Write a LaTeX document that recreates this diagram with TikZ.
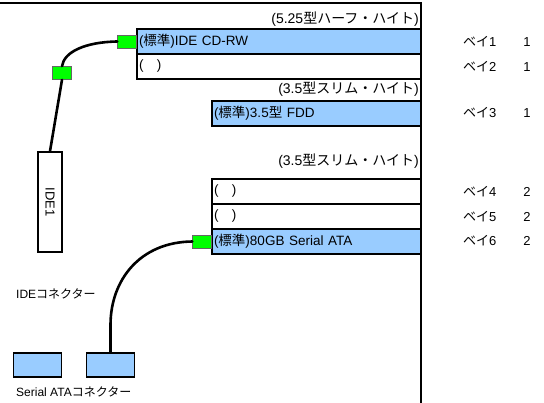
\documentclass[tikz,border=0pt]{standalone}
\usepackage{fontspec}
\setmainfont{Liberation Sans}
\newfontfamily\jpfont{Noto Sans CJK JP}
\newcommand{\jp}[1]{{\jpfont #1}}
\usepackage{xcolor}
\usepackage{tikz}
\usetikzlibrary{positioning}

\definecolor{baybl}{HTML}{99CCFF}
\definecolor{plugg}{HTML}{00FF00}

\tikzset{
  bay/.style={draw, line width=1.6pt, outer sep=0pt, inner xsep=2pt, inner ysep=0pt,
    minimum height=25pt, align=left, font=\fontsize{13.5}{14}\selectfont},
  used/.style={bay, fill=baybl},
  head/.style={anchor=east, inner sep=0pt, font=\fontsize{14}{15}\selectfont},
  baylabel/.style={anchor=west, inner sep=0pt, font=\fontsize{13}{14}\selectfont},
  plug/.style={draw=black!60, fill=plugg, line width=0.6pt, inner sep=0pt,
    minimum width=19pt, minimum height=13pt},
  port/.style={draw, line width=1.4pt, fill=baybl, minimum width=48pt, minimum height=24pt},
  cable/.style={line width=2.6pt, line cap=round},
  note/.style={anchor=west, inner sep=0pt, font=\fontsize{12}{13}\selectfont}
}

\begin{document}
\begin{tikzpicture}[x=1pt, y=-1pt]
  \useasboundingbox (0,0) rectangle (544,403);

  % Frame
  \draw[line width=1.8pt] (0,3) -- (421,3) -- (421,403);

  % 5.25 bays
  \node[head] (head1) at (419,19) {(5.25\jp{型ハーフ・ハイト})};
  \node[used, anchor=north west, text width=280pt] (bay1) at (137,29) {(\jp{標準})IDE CD-RW};
  \node[bay, below=0pt of bay1, text width=280pt] (bay2) {(\jp{　})};

  % 3.5 bay
  \node[head] (head2) at (419,89) {(3.5\jp{型スリム・ハイト})};
  \node[used, anchor=north west, text width=205pt] (bay3) at (212,101) {(\jp{標準})3.5\jp{型} FDD};

  % 3.5 slim bays
  \node[head] (head3) at (419,161) {(3.5\jp{型スリム・ハイト})};
  \node[bay, anchor=north west, text width=205pt] (bay4) at (212,179) {(\jp{　})};
  \node[bay, below=0pt of bay4, text width=205pt] (bay5) {(\jp{　})};
  \node[used, below=0pt of bay5, text width=205pt] (bay6) {(\jp{標準})80GB Serial ATA};

  % Bay numbers
  \node[baylabel] (num1) at (463,42) {\jp{ベイ}1\hspace{27pt}1};
  \node[baylabel] (num2) at (463,67) {\jp{ベイ}2\hspace{27pt}1};
  \node[baylabel] (num3) at (463,113) {\jp{ベイ}3\hspace{27pt}1};
  \node[baylabel] (num4) at (463,192) {\jp{ベイ}4\hspace{27pt}2};
  \node[baylabel] (num5) at (463,217) {\jp{ベイ}5\hspace{27pt}2};
  \node[baylabel] (num6) at (463,241) {\jp{ベイ}6\hspace{27pt}2};

  % Connectors
  \node[plug, left=0pt of bay1] (plug1) {};
  \node[plug] (plug2) at (62,73) {};
  \node[plug, left=0pt of bay6] (plug3) {};

  \node[draw, line width=1.4pt, minimum width=100pt, minimum height=24pt, rotate=-90,
    font=\fontsize{13}{14}\selectfont] (ide1) at (50,202) {IDE1};

  \node[port] (sata1) at (37.5,365) {};
  \node[port] (sata2) at (110.5,365) {};

  \node[note] (idelabel) at (16,294) {IDE\jp{コネクター}};
  \node[note] (satalabel) at (16,392) {Serial ATA\jp{コネクター}};

  % Cables
  \coordinate (bend) at (110.5,325);
  \draw[cable] (plug1.west) .. controls (85,42) and (64,52) .. (plug2.north);
  \draw[cable] (plug2.south) -- (ide1.west);
  \draw[cable] (plug3.west) .. controls (140,242) and (110.5,280) .. (bend) -- (sata2.north);

\end{tikzpicture}
\end{document}
